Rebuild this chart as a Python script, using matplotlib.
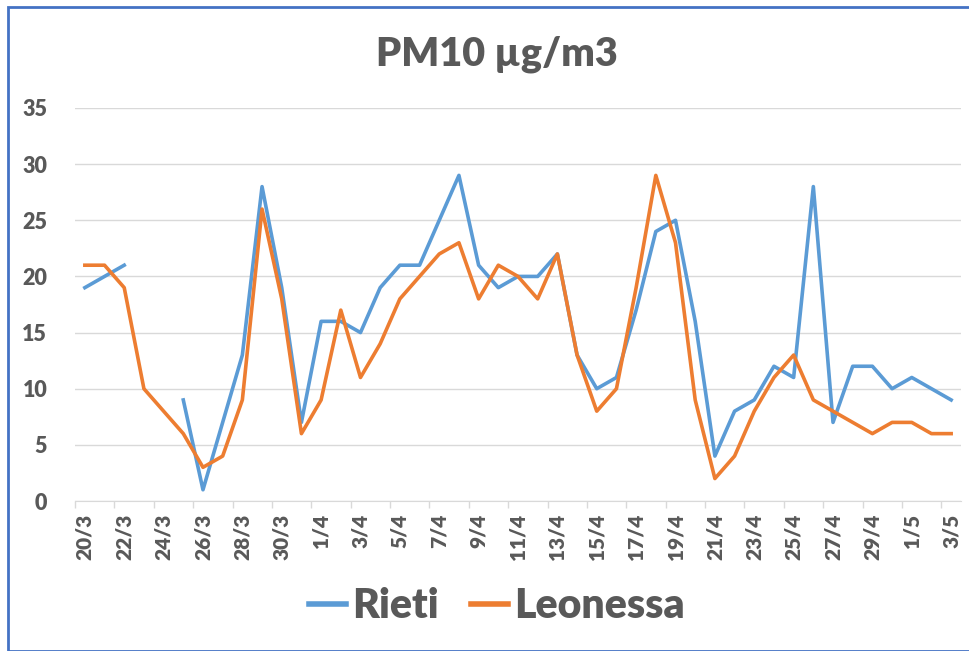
"""
PM10 daily values, Rieti vs Leonessa (20/3 - 3/5).
"""

import numpy as np
import matplotlib
matplotlib.use('Agg')
import matplotlib.pyplot as plt
from matplotlib.patches import Rectangle

# one point per day, 20/3 .. 3/5
days = (['%d/3' % d for d in range(20, 32)] +
        ['%d/4' % d for d in range(1, 31)] +
        ['%d/5' % d for d in range(1, 4)])

nan = np.nan
rieti = [19, 20, 21, nan, nan, 9, 1, 7, 13, 28, 19, 7,
         16, 16, 15, 19, 21, 21, 25, 29, 21, 19, 20, 20, 22, 13, 10, 11, 17, 24, 25,
         16, 4, 8, 9, 12, 11, 28, 7, 12, 12, 10,
         11, 10, 9]
leonessa = [21, 21, 19, 10, 8, 6, 3, 4, 9, 26, 18, 6,
            9, 17, 11, 14, 18, 20, 22, 23, 18, 21, 20, 18, 22, 13, 8, 10, 19, 29, 23,
            9, 2, 4, 8, 11, 13, 9, 8, 7, 6, 7,
            7, 6, 6]

BLUE = '#5B9BD5'
ORANGE = '#ED7D31'
GRAY = '#595959'
GRID = '#D9D9D9'

plt.rcParams['font.family'] = ['Lato', 'DejaVu Sans']

W, H = 970, 651
fig = plt.figure(figsize=(W / 100, H / 100), dpi=100)
ax = fig.add_axes([75 / W, 1 - 501 / H, (961 - 75) / W, (501 - 108) / H])

x = np.arange(len(days))
ax.plot(x, rieti, color=BLUE, lw=2.6, label='Rieti', solid_joinstyle='round')
ax.plot(x, leonessa, color=ORANGE, lw=2.6, label='Leonessa', solid_joinstyle='round')

ax.set_xlim(-0.5, len(days) - 0.5)
ax.set_ylim(0, 35)
ax.set_yticks(range(0, 36, 5))
ax.yaxis.grid(True, color=GRID, lw=1)
ax.set_axisbelow(True)

ax.set_xticks(x[::2])
ax.set_xticklabels(days[::2], rotation=90)
ax.set_xticks(np.arange(-0.5, len(days) - 1, 2), minor=True)
ax.tick_params(axis='x', which='major', length=0, pad=9, labelsize=15, labelcolor=GRAY)
ax.tick_params(axis='x', which='minor', length=5, color=GRID, width=1)
ax.tick_params(axis='y', length=0, pad=20, labelsize=15.5, labelcolor=GRAY)
for lab in ax.get_xticklabels() + ax.get_yticklabels():
    lab.set_fontweight('heavy')

for s in ['top', 'right', 'left']:
    ax.spines[s].set_visible(False)
ax.spines['bottom'].set_color(GRID)

fig.text(497 / W, 1 - 54 / H, 'PM10 µg/m3', ha='center', va='center',
         fontsize=28.5, fontweight='heavy', color=GRAY)

leg = fig.legend(loc='center', bbox_to_anchor=(497 / W, 1 - 606 / H), ncol=2,
                 frameon=False, fontsize=29.5, handlelength=0.9, handletextpad=0.15,
                 columnspacing=0.8)
for t in leg.get_texts():
    t.set_color(GRAY)
    t.set_fontweight('heavy')
for h in leg.get_lines():
    h.set_linewidth(4)

fig.patches.append(Rectangle((8 / W, 0.5 / H), 1.0, 1 - 7.5 / H, transform=fig.transFigure,
                             fill=False, edgecolor='#4472C4', lw=2))

fig.savefig('out.png', dpi=100)
